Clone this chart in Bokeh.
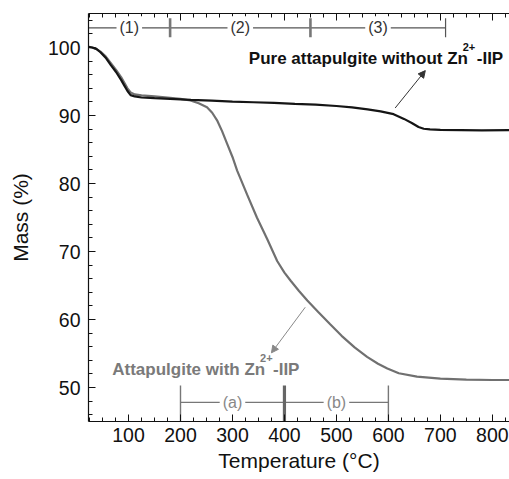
from bokeh.plotting import figure
from bokeh.models import (Range1d, LinearAxis, SingleIntervalTicker, Label,
                          Arrow, NormalHead)
from bokeh.core.properties import value
from bokeh.embed import file_html
from bokeh.resources import INLINE

# TGA curves: temperature (°C) vs remaining mass (%)
temp_pure = [23, 30, 38, 46, 56, 66, 76, 86, 92, 98, 104, 112, 125, 150, 180,
             220, 260, 300, 340, 380, 420, 460, 500, 530, 560, 585, 610, 630,
             645, 658, 668, 680, 700, 740, 780, 833]
mass_pure = [100.1, 100.0, 99.8, 99.3, 98.5, 97.4, 96.4, 95.2, 94.4, 93.6,
             93.0, 92.8, 92.65, 92.55, 92.45, 92.3, 92.2, 92.05, 91.95, 91.85,
             91.7, 91.6, 91.4, 91.2, 90.9, 90.6, 90.2, 89.5, 88.9, 88.3, 88.05,
             87.95, 87.9, 87.85, 87.8, 87.85]

temp_iip = [23, 30, 38, 46, 56, 66, 76, 86, 92, 98, 104, 112, 125, 150, 180,
            200, 219, 235, 251, 261, 271, 280, 290, 300, 309, 328, 347, 367,
            386, 400, 412, 428, 444, 465, 488, 510, 535, 559, 580, 598, 620,
            655, 700, 750, 800, 833]
mass_iip = [100.1, 100.0, 99.8, 99.4, 98.7, 97.7, 96.7, 95.6, 94.8, 94.0,
            93.4, 93.1, 92.95, 92.8, 92.6, 92.45, 92.2, 91.8, 91.2, 90.4, 89.2,
            87.7, 85.8, 83.9, 81.9, 78.4, 75.0, 71.8, 68.6, 66.9, 65.7, 64.2,
            62.8, 61.1, 59.3, 57.6, 55.9, 54.5, 53.5, 52.8, 52.1, 51.6, 51.3,
            51.15, 51.1, 51.1]

# decomposition stages
stage_edges = [23, 180, 450, 710]
stage_labels = ["(1)", "(2)", "(3)"]
sub_edges = [200, 400, 600]
sub_labels = ["(a)", "(b)"]

FONT = "Liberation Sans"

p = figure(width=509, height=479, x_range=Range1d(23, 833),
           y_range=Range1d(45, 105), output_backend="svg",
           toolbar_location=None, min_border_left=88, min_border_right=0,
           min_border_top=13, min_border_bottom=58)
p.outline_line_color = None
p.xgrid.visible = False
p.ygrid.visible = False
p.background_fill_color = "white"


def style_axis(ax):
    ax.axis_line_color = "#111111"
    ax.axis_line_width = 1.2
    ax.major_tick_line_color = "#111111"
    ax.minor_tick_line_color = "#111111"
    ax.major_tick_in = 7
    ax.major_tick_out = 0
    ax.minor_tick_in = 4
    ax.minor_tick_out = 0
    ax.major_label_text_font = FONT
    ax.major_label_text_font_size = "19.5px"
    ax.major_label_text_color = "#111111"
    ax.axis_label_text_font = FONT
    ax.axis_label_text_font_size = "21px"
    ax.axis_label_text_font_style = "normal"
    ax.axis_label_text_color = "#111111"


p.xaxis.ticker = SingleIntervalTicker(interval=100, num_minor_ticks=4)
p.yaxis.ticker = SingleIntervalTicker(interval=10, num_minor_ticks=5)
style_axis(p.xaxis[0])
style_axis(p.yaxis[0])
p.xaxis.axis_label = "Temperature (°C)"
p.yaxis.axis_label = "Mass (%)"
p.xaxis.major_label_standoff = 6
p.xaxis.axis_label_standoff = 4
p.yaxis.major_label_standoff = 8
p.yaxis.axis_label_standoff = 13

top = LinearAxis(ticker=SingleIntervalTicker(interval=100, num_minor_ticks=4))
style_axis(top)
top.major_label_text_font_size = "0px"
top.major_label_standoff = 0
p.add_layout(top, "above")

# curves
p.line(temp_iip, mass_iip, line_color="#707070", line_width=2.2)
p.line(temp_pure, mass_pure, line_color="#151515", line_width=2.2)

# stage brackets along the top
top_y, top_lo, top_hi = 102.9, 101.5, 104.3
p.segment(x0=[stage_edges[0]], y0=[top_y], x1=[stage_edges[-1]], y1=[top_y],
          line_color="#555555", line_width=1.2)
p.segment(x0=stage_edges[1:], y0=[top_lo] * 3, x1=stage_edges[1:],
          y1=[top_hi] * 3, line_color=["#777777", "#777777", "#555555"],
          line_width=[2.6, 2.6, 1.2])
for i, lab in enumerate(stage_labels):
    mid = (stage_edges[i] + stage_edges[i + 1]) / 2
    p.add_layout(Label(x=mid, y=top_y, text=lab, text_align="center",
                       text_baseline="middle", text_font=FONT,
                       text_font_size="16px", text_color="#333333",
                       background_fill_color="white", padding=3))

# sub-stage brackets along the bottom
bot_y, bot_lo, bot_hi = 47.8, 45.0, 50.3
p.segment(x0=[sub_edges[0]], y0=[bot_y], x1=[sub_edges[-1]], y1=[bot_y],
          line_color="#777777", line_width=1.2)
p.segment(x0=sub_edges, y0=[bot_lo] * 3, x1=sub_edges, y1=[bot_hi] * 3,
          line_color=["#777777", "#666666", "#777777"],
          line_width=[1.4, 3.2, 1.4])
for i, lab in enumerate(sub_labels):
    mid = (sub_edges[i] + sub_edges[i + 1]) / 2
    p.add_layout(Label(x=mid, y=bot_y, text=lab, text_align="center",
                       text_baseline="middle", text_font=FONT,
                       text_font_size="16px", text_color="#888888",
                       background_fill_color="white", padding=3))


def add_name(x_end, x_sup, x_tail, y_main, y_sup, prefix, color, size):
    # prefix right-aligned at x_end, then the "2+" superscript and "-IIP"
    common = dict(text_font=value(FONT), text_font_style="bold",
                  text_baseline="alphabetic", text_color=color)
    p.text(x=[x_end], y=[y_main], text=[prefix], text_align="right",
           text_font_size=value(size), **common)
    p.text(x=[x_sup], y=[y_sup], text=["2+"], text_align="left",
           text_font_size=value("11px"), **common)
    p.text(x=[x_tail], y=[y_main], text=["-IIP"], text_align="left",
           text_font_size=value(size), **common)


add_name(753, 743, 770, 98.4, 100.1, "Pure attapulgite without Zn",
         "#111111", "17px")
add_name(363, 353, 378, 52.7, 54.4, "Attapulgite with Zn", "#7a7a7a", "17px")

p.add_layout(Arrow(end=NormalHead(size=7, fill_color="#333333",
                                  line_color="#333333"),
                   x_start=613, y_start=91.1, x_end=671, y_end=96.6,
                   line_color="#333333", line_width=1))
p.add_layout(Arrow(end=NormalHead(size=7, fill_color="#888888",
                                  line_color="#888888"),
                   x_start=440, y_start=61.8, x_end=375, y_end=55.1,
                   line_color="#888888", line_width=1))

open("out.html", "w").write(file_html(p, INLINE))
